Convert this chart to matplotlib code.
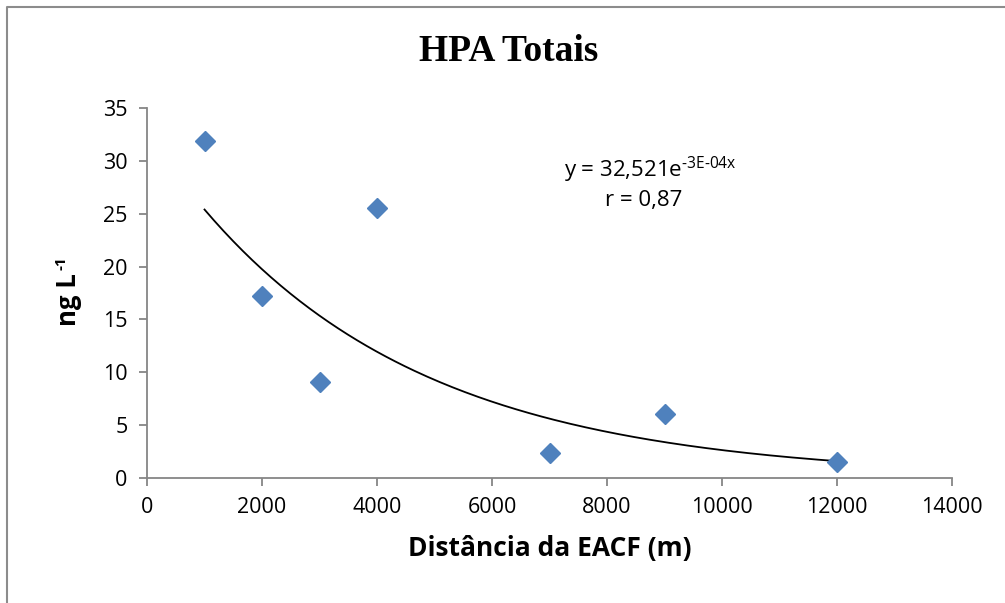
import numpy as np
import matplotlib.pyplot as plt
from matplotlib.lines import Line2D

# Data
distancia = [1000, 2000, 3000, 4000, 7000, 9000, 12000]
hpa_totais = [31.9, 17.2, 9.1, 25.5, 2.4, 6.1, 1.5]
x_ticks = [0, 2000, 4000, 6000, 8000, 10000, 12000, 14000]
y_ticks = [0, 5, 10, 15, 20, 25, 30, 35]

sans = ['Open Sans', 'DejaVu Sans']
plt.rcParams['mathtext.fontset'] = 'custom'
plt.rcParams['mathtext.rm'] = 'Open Sans'
plt.rcParams['mathtext.bf'] = 'Open Sans:bold'


def main():
    fig = plt.figure(figsize=(10.05, 6.03), dpi=100)
    ax = fig.add_axes([0.1463, 0.2073, 0.8010, 0.6136])

    x = np.array(distancia, dtype=float)
    y = np.array(hpa_totais, dtype=float)

    # Exponential trendline (least squares on log y, like Excel)
    k, ln_a = np.polyfit(x, np.log(y), 1)
    xs = np.linspace(x.min(), x.max(), 200)
    ax.plot(xs, np.exp(ln_a) * np.exp(k * xs), color='black', linewidth=1.3, zorder=2)

    ax.plot(x, y, linestyle='none', marker='D', markersize=10.5,
            color='#4F81BD', markeredgecolor='#4F81BD', zorder=3)

    ax.set_xlim(0, 14000)
    ax.set_ylim(0, 35)
    ax.set_xticks(x_ticks)
    ax.set_yticks(y_ticks)
    ax.set_xticklabels([str(v) for v in x_ticks], family=sans, fontsize=15.5)
    ax.set_yticklabels([str(v) for v in y_ticks], family=sans, fontsize=15.5)
    ax.tick_params(direction='out', length=6, width=1.3, color='#868686', pad=8)

    for side in ('top', 'right'):
        ax.spines[side].set_visible(False)
    for side in ('left', 'bottom'):
        ax.spines[side].set_color('#868686')
        ax.spines[side].set_linewidth(1.3)

    ax.set_xlabel('Distância da EACF (m)', family=sans, fontsize=19,
                  fontweight='bold', labelpad=12)

    # y label: "ng L" with a small "-1" superscript
    ax.text(-0.098, 0.481, 'ng L', transform=ax.transAxes, rotation=90,
            ha='center', va='center', family=sans, fontsize=18.5, fontweight='bold')
    ax.text(-0.106, 0.582, '-1', transform=ax.transAxes, rotation=90,
            ha='center', va='center', family=sans, fontsize=11, fontweight='bold')

    fig.text(0.506, 0.914, 'HPA Totais', ha='center', va='center',
             family=['Liberation Serif'], fontsize=27, fontweight='bold')

    ax.text(0.625, 0.832, r'y = 32,521e$^{\text{-3E-04x}}$',
            transform=ax.transAxes, ha='center', va='center',
            family=sans, fontsize=16)
    ax.text(0.617, 0.751, 'r = 0,87', transform=ax.transAxes,
            ha='center', va='center', family=sans, fontsize=16)

    # Partial chart frame (left and top edges)
    fig.add_artist(Line2D([0.007, 0.007, 1.0], [0.0, 0.988, 0.988],
                          transform=fig.transFigure, color='#8C8C8C', linewidth=1.5))

    fig.savefig('out.png', dpi=100)


if __name__ == "__main__":
    main()
